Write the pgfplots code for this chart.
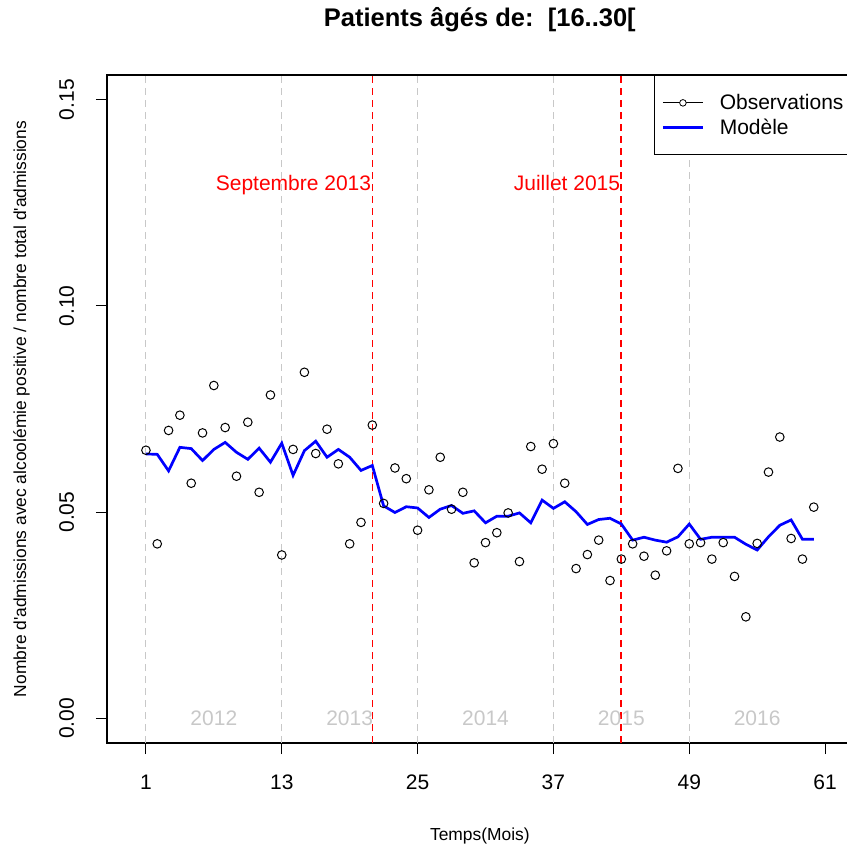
\documentclass[border=0pt]{standalone}
\usepackage{pgfplots}
\usepackage{pgfplotstable}
\pgfplotsset{compat=1.18}
\usepackage{fontspec}
\setmainfont{Liberation Sans}
\definecolor{lgray}{RGB}{200,200,200}
\definecolor{rred}{RGB}{255,0,0}

\pgfplotstableread{
m v
1 0.0650
2 0.0423
3 0.0698
4 0.0735
5 0.0570
6 0.0692
7 0.0807
8 0.0705
9 0.0587
10 0.0718
11 0.0548
12 0.0784
13 0.0396
14 0.0652
15 0.0839
16 0.0642
17 0.0701
18 0.0617
19 0.0423
20 0.0475
21 0.0711
22 0.0521
23 0.0607
24 0.0581
25 0.0456
26 0.0554
27 0.0633
28 0.0507
29 0.0548
30 0.0377
31 0.0426
32 0.0450
33 0.0498
34 0.0380
35 0.0659
36 0.0604
37 0.0666
38 0.0570
39 0.0363
40 0.0397
41 0.0432
42 0.0334
43 0.0386
44 0.0423
45 0.0393
46 0.0347
47 0.0406
48 0.0606
49 0.0423
50 0.0426
51 0.0386
52 0.0426
53 0.0344
54 0.0246
55 0.0424
56 0.0597
57 0.0682
58 0.0436
59 0.0386
60 0.0512
}\obs

\pgfplotstableread{
m v
1 0.0641
2 0.0640
3 0.0600
4 0.0657
5 0.0654
6 0.0625
7 0.0652
8 0.0669
9 0.0645
10 0.0628
11 0.0655
12 0.0621
13 0.0667
14 0.0589
15 0.0649
16 0.0672
17 0.0633
18 0.0652
19 0.0633
20 0.0601
21 0.0613
22 0.0515
23 0.0499
24 0.0513
25 0.0510
26 0.0487
27 0.0507
28 0.0516
29 0.0497
30 0.0503
31 0.0474
32 0.0490
33 0.0490
34 0.0498
35 0.0474
36 0.0529
37 0.0509
38 0.0525
39 0.0501
40 0.0470
41 0.0482
42 0.0485
43 0.0471
44 0.0432
45 0.0439
46 0.0432
47 0.0427
48 0.0440
49 0.0471
50 0.0434
51 0.0439
52 0.0439
53 0.0439
54 0.0422
55 0.0408
56 0.0440
57 0.0468
58 0.0481
59 0.0434
60 0.0434
}\model

\begin{document}
\begin{tikzpicture}
\begin{axis}[
  at={(0pt,0pt)}, anchor=south west,
  scale only axis, width=745.7pt, height=668pt,
  xmin=-2.44, xmax=63.44, ymin=-0.006, ymax=0.156,
  axis line style={line width=1.1pt, black},
  xtick={1,13,25,37,49,61}, xticklabels={1,13,25,37,49,61},
  ytick={0,0.05,0.1,0.15}, yticklabels={0.00,0.05,0.10,0.15},
  tick align=outside, xtick pos=bottom, ytick pos=left,
  major tick length=11pt,
  tick style={line width=1pt, black},
  ticklabel style={font=\fontsize{21}{25}\selectfont},
  xticklabel style={anchor=base, yshift=-35pt},
  yticklabel style={xshift=-22pt, rotate=90, anchor=base},
  title={Patients âgés de:~~[16..30[},
  title style={at={(axis description cs:0.5,1.0629)}, anchor=base, font=\fontsize{25.5}{30}\selectfont\bfseries},
  xlabel={Temps(Mois)},
  xlabel style={at={(axis description cs:0.5,-0.1467)}, anchor=base, font=\fontsize{17.4}{20}\selectfont},
  ylabel={Nombre d\textquotesingle admissions avec alcoolémie positive / nombre total d\textquotesingle admissions},
  ylabel style={at={(axis description cs:-0.1086,0.5)}, anchor=base, font=\fontsize{17.4}{20}\selectfont},
  legend style={at={(axis description cs:1,1)}, anchor=north east, draw=black, line width=1pt,
    inner xsep=6.7pt, inner ysep=17pt, row sep=3.5pt,
    font=\fontsize{21}{25}\selectfont,
    cells={anchor=west, inner sep=0pt},
    /tikz/every odd column/.append style={column sep=13.5pt},
    /tikz/every even column/.append style={column sep=3pt}},
]
% vertical reference lines
\addplot[forget plot, lgray, line width=1pt, dash pattern=on 7pt off 5pt] coordinates {(1,-0.006) (1,0.156)};
\addplot[forget plot, lgray, line width=1pt, dash pattern=on 7pt off 5pt] coordinates {(13,-0.006) (13,0.156)};
\addplot[forget plot, lgray, line width=1pt, dash pattern=on 7pt off 5pt] coordinates {(25,-0.006) (25,0.156)};
\addplot[forget plot, lgray, line width=1pt, dash pattern=on 7pt off 5pt] coordinates {(37,-0.006) (37,0.156)};
\addplot[forget plot, lgray, line width=1pt, dash pattern=on 7pt off 5pt] coordinates {(49,-0.006) (49,0.156)};
\addplot[forget plot, draw=rred, line width=1.2pt, dash pattern=on 7pt off 5pt] coordinates {(21,-0.006) (21,0.156)};
\addplot[forget plot, draw=rred, line width=2pt, dash pattern=on 7pt off 5pt] coordinates {(43,-0.006) (43,0.156)};

\addplot[only marks, mark=o, mark size=4.3pt, mark options={line width=1pt, black}, black,
  legend image code/.code={\draw[black, line width=0.8pt] (0pt,0pt) -- (40pt,0pt);
    \draw[black, line width=0.8pt, fill=white] (20pt,0pt) circle (3.3pt);}]
  table[x=m, y=v] {\obs};
\addlegendentry{Observations}
\addplot[blue, line width=2.7pt, no marks,
  legend image code/.code={\draw[blue, line width=2.7pt] (0pt,0pt) -- (40pt,0pt);}]
  table[x=m, y=v] {\model};
\addlegendentry{Modèle}

\node[rred, anchor=base east, inner sep=1pt, font=\fontsize{21}{25}\selectfont] at (axis cs:21,0.128) {Septembre 2013};
\node[rred, anchor=base east, inner sep=1pt, font=\fontsize{21}{25}\selectfont] at (axis cs:43,0.128) {Juillet 2015};

\node[lgray, font=\fontsize{21}{25}\selectfont] at (axis cs:7,0) {2012};
\node[lgray, font=\fontsize{21}{25}\selectfont] at (axis cs:19,0) {2013};
\node[lgray, font=\fontsize{21}{25}\selectfont] at (axis cs:31,0) {2014};
\node[lgray, font=\fontsize{21}{25}\selectfont] at (axis cs:43,0) {2015};
\node[lgray, font=\fontsize{21}{25}\selectfont] at (axis cs:55,0) {2016};
\end{axis}
\pgfresetboundingbox
\useasboundingbox (-107pt,-104pt) rectangle (740pt,743pt);
\end{tikzpicture}
\end{document}
